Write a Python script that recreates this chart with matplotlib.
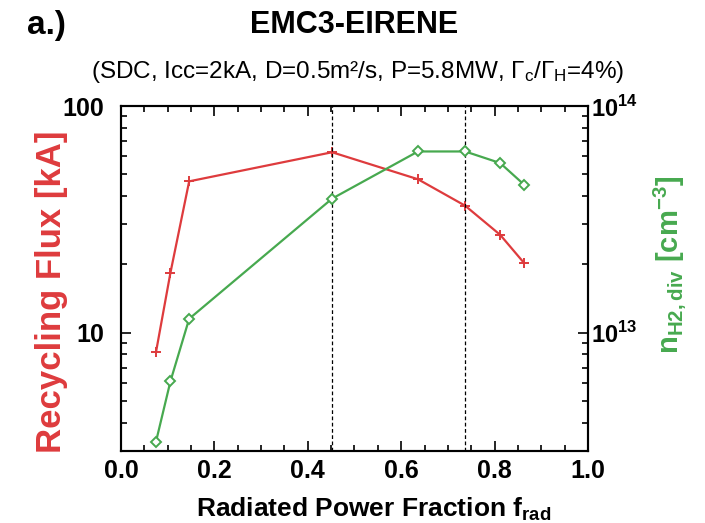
import matplotlib.pyplot as plt
from matplotlib.ticker import MultipleLocator, FixedLocator, NullFormatter

plt.rcParams['font.family'] = ['Liberation Sans', 'DejaVu Sans']
plt.rcParams['mathtext.fontset'] = 'custom'
plt.rcParams['mathtext.rm'] = 'Liberation Sans'
plt.rcParams['mathtext.bf'] = 'Liberation Sans:bold'

# radiated power fraction
f_rad = [0.075, 0.106, 0.146, 0.452, 0.636, 0.737, 0.812, 0.863]
# recycling flux [kA]
recycling = [8.2, 18.4, 46.5, 62.5, 47.5, 36.3, 27.0, 20.3]
# H2 density in divertor [cm^-3]
n_h2 = [3.3e12, 6.1e12, 1.15e13, 3.9e13, 6.3e13, 6.3e13, 5.6e13, 4.5e13]
# dashed marker lines
vlines = [0.452, 0.737]

red = '#de3b3d'
green = '#47a94f'

fig = plt.figure(figsize=(7.05, 5.23), dpi=100)
ax = fig.add_axes([0.1716, 0.1377, 0.6624, 0.6596])
ax2 = ax.twinx()

ax.plot(f_rad, recycling, color=red, marker='+', ms=7, mew=1.4, lw=1.6)
ax2.plot(f_rad, n_h2, color=green, marker='D', ms=5, mfc='white', mew=1.4, lw=1.6)
for v in vlines:
    ax.axvline(v, color='black', ls=(0, (3, 2)), lw=0.9)

ax.set_xlim(0, 1)
ax.set_yscale('log')
ax.set_ylim(3, 100)
ax2.set_yscale('log')
ax2.set_ylim(3e12, 1e14)

ax.xaxis.set_minor_locator(MultipleLocator(0.05))
ax.set_xticks([0.0, 0.2, 0.4, 0.6, 0.8, 1.0])
ax.set_xticklabels(['0.0', '0.2', '0.4', '0.6', '0.8', '1.0'])

ax.yaxis.set_major_locator(FixedLocator([10, 100]))
ax.yaxis.set_minor_locator(FixedLocator([3, 4, 5, 6, 7, 8, 9, 20, 30, 40, 50, 60, 70, 80, 90]))
ax.yaxis.set_minor_formatter(NullFormatter())
ax.set_yticklabels(['10', '100'])
ax2.yaxis.set_major_locator(FixedLocator([1e13, 1e14]))
ax2.yaxis.set_minor_locator(FixedLocator([k * 1e12 for k in range(3, 10)] + [k * 1e13 for k in range(2, 10)]))
ax2.yaxis.set_minor_formatter(NullFormatter())
ax2.set_yticklabels([r'10$^{\mathbf{13}}$', r'10$^{\mathbf{14}}$'])

ax.tick_params(which='both', direction='in', top=True, width=1.2)
ax.tick_params(axis='x', which='major', length=7, labelsize=18, pad=6)
ax.tick_params(axis='y', which='major', length=7, labelsize=18, pad=12)
ax.tick_params(which='minor', length=4)
ax2.tick_params(which='both', direction='in', width=1.2)
ax2.tick_params(which='major', length=7, labelsize=17, pad=2)
ax2.tick_params(which='minor', length=4)
for lab in ax.get_xticklabels() + ax.get_yticklabels() + ax2.get_yticklabels():
    lab.set_fontweight('bold')
for a in (ax, ax2):
    for s in a.spines.values():
        s.set_linewidth(1.5)

ax.set_xlabel(r'Radiated Power Fraction f$_{\mathbf{rad}}$', fontsize=19, fontweight='bold')
ax.xaxis.set_label_coords(0.542, -0.128)
ax.set_ylabel('Recycling Flux [kA]', fontsize=25, fontweight='bold', color=red)
ax.yaxis.set_label_coords(-0.114, 0.461)
ax2.set_ylabel(r'n$_{\mathbf{H2,div}}$ [cm$^{\mathbf{-3}}$]', fontsize=21, fontweight='bold', color=green)
ax2.yaxis.set_label_coords(1.135, 0.539)

fig.text(0.038, 0.952, 'a.)', fontsize=24, fontweight='bold', va='center')
fig.text(0.502, 0.952, 'EMC3-EIRENE', fontsize=22, fontweight='bold', ha='center', va='center')
fig.text(0.507, 0.862, r'(SDC, Icc=2kA, D=0.5m²/s, P=5.8MW, $\mathrm{\Gamma_c/\Gamma_H}$=4%)',
         fontsize=17.5, ha='center', va='center')

fig.savefig('out.png', dpi=100)
